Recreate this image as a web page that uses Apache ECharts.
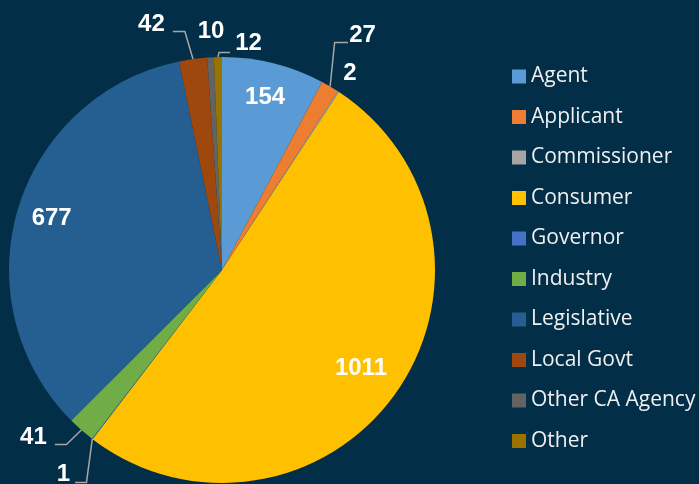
<!DOCTYPE html>
<html>
<head>
<meta charset="utf-8">
<script src="https://cdn.jsdelivr.net/npm/echarts@6/dist/echarts.min.js"></script>
<style>
  html, body { margin: 0; padding: 0; background: #032e47; }
  #chart { width: 699px; height: 484px; }
</style>
</head>
<body>
<div id="chart"></div>
<script>
const categories = ['Agent', 'Applicant', 'Commissioner', 'Consumer', 'Governor', 'Industry', 'Legislative', 'Local Govt', 'Other CA Agency', 'Other'];
const counts = [154, 27, 2, 1011, 1, 41, 677, 42, 10, 12];
const colors = ['#5B9BD5', '#ED7D31', '#A5A5A5', '#FFC000', '#4472C4', '#70AD47', '#255E91', '#9E480E', '#636363', '#997300'];

// pie geometry (px)
const CX = 222, CY = 270, R = 213;

// labels drawn inside the slice, at this fraction of the radius
const insideFrac = { 'Agent': 0.835, 'Consumer': 0.8, 'Legislative': 0.835 };

// outside labels: offset of label centre from slice edge, and leader line bends relative to label centre
const outsidePlace = {
  'Applicant':       { dx: 32.5, dy: -51.5, line: [[-28, 7.5], [-14.5, 7.5]] },
  'Commissioner':    { dx: 11.6, dy: -18.2 },
  'Local Govt':      { dx: -41.6, dy: -34.5, line: [[33.5, 7], [21.5, 7]] },
  'Other CA Agency': { dx: 0.5, dy: -25.8 },
  'Other':           { dx: 30.6, dy: -14, line: [[-29.5, 9.5], [-18.5, 9.5]] },
  'Industry':        { dx: -47.9, dy: 7, line: [[33, 7.5], [21.5, 7.5]] },
  'Governor':        { dx: -28.8, dy: 35.5, line: [[23, 8], [11.5, 8]] }
};

const total = counts.reduce((a, b) => a + b, 0);
// mid angle of each slice, clockwise from 12 o'clock
const midAngles = [];
let acc = 0;
counts.forEach(v => {
  midAngles.push((acc + v / 2) / total * Math.PI * 2);
  acc += v;
});

const seriesData = categories.map((name, i) => {
  const hasLine = outsidePlace[name] && outsidePlace[name].line;
  return {
    name: name,
    value: counts[i],
    itemStyle: { color: colors[i] },
    labelLine: { show: !!hasLine }
  };
});

const chart = echarts.init(document.getElementById('chart'));
chart.setOption({
  backgroundColor: '#032e47',
  animation: false,
  legend: {
    orient: 'vertical',
    left: 507,
    top: 61,
    icon: 'rect',
    itemWidth: 14,
    itemHeight: 14,
    itemGap: 19.5,
    data: categories,
    textStyle: {
      color: '#f0f0f0',
      fontSize: 21,
      lineHeight: 20,
      fontFamily: 'Open Sans'
    }
  },
  series: [
    {
      type: 'pie',
      center: [CX, CY],
      radius: [0, R],
      startAngle: 90,
      clockwise: true,
      avoidLabelOverlap: false,
      itemStyle: { borderWidth: 0 },
      label: {
        show: true,
        formatter: '{c}',
        color: '#ffffff',
        fontSize: 24,
        fontWeight: 'bold',
        fontFamily: 'Liberation Sans, Arial'
      },
      labelLine: {
        show: true,
        lineStyle: { color: '#a6a6a6', width: 1.5 }
      },
      labelLayout: function (params) {
        const i = params.dataIndex;
        const name = categories[i];
        const a = midAngles[i];
        if (insideFrac[name]) {
          const f = insideFrac[name];
          return {
            x: CX + R * f * Math.sin(a),
            y: CY - R * f * Math.cos(a),
            align: 'center',
            verticalAlign: 'middle'
          };
        }
        const p = outsidePlace[name];
        const ex = CX + R * Math.sin(a);
        const ey = CY - R * Math.cos(a);
        const lx = ex + p.dx;
        const ly = ey + p.dy;
        const out = { x: lx, y: ly, align: 'center', verticalAlign: 'middle' };
        if (p.line) {
          out.labelLinePoints = [
            [ex, ey],
            [lx + p.line[0][0], ly + p.line[0][1]],
            [lx + p.line[1][0], ly + p.line[1][1]]
          ];
        }
        return out;
      },
      data: seriesData
    }
  ]
});
</script>
</body>
</html>
